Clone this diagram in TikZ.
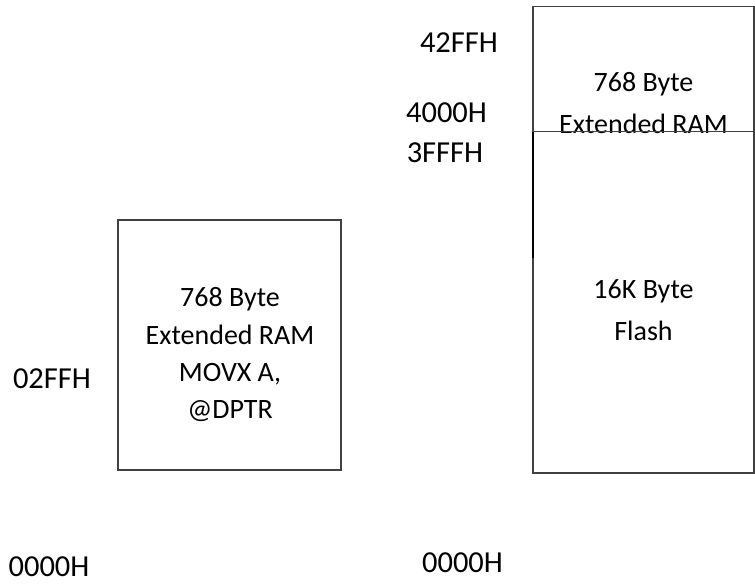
\documentclass[tikz,border=0pt]{standalone}
\usepackage{fontspec}
\setmainfont{Carlito}
\tikzset{
  box/.style={draw=black!75, line width=1.4pt, inner sep=0pt, outer sep=0pt, anchor=north west},
  boxtext/.style={inner sep=0pt, anchor=base, font=\fontsize{28}{34}\selectfont, text=black},
  addr/.style={inner sep=0pt, anchor=base, font=\fontsize{30.5}{36}\selectfont, text=black}
}
\begin{document}
\begin{tikzpicture}[x=1pt,y=-1pt]
\useasboundingbox (0,0) rectangle (755,584);
% boxes
\node[box, minimum width=223pt, minimum height=250pt] (ram) at (118,220) {};
\node[box, minimum width=221pt, minimum height=125pt] (xram) at (533,6.5) {};
\node[box, minimum width=221pt, minimum height=341.5pt] (flash) at (533,131.5) {};
\coordinate (seg1) at (533,132);
\coordinate (seg2) at (533,258);
\draw[black, line width=1.4pt] (seg1) -- (seg2);
% box texts
\node[boxtext] (r1) at (230,306) {768 Byte};
\node[boxtext] (r2) at (230,344) {Extended RAM};
\node[boxtext] (r3) at (230,381) {MOVX A,};
\node[boxtext] (r4) at (230,418) {@DPTR};
\node[boxtext] (x1) at (643.5,91) {768 Byte};
\node[boxtext] (x2) at (643.5,133) {Extended RAM};
\node[boxtext] (f1) at (643.5,298) {16K Byte};
\node[boxtext] (f2) at (643.5,340) {Flash};
% redraw divider on top of text
\draw[draw=black!75, line width=1.4pt] (xram.south west) -- (xram.south east);
% addresses
\node[addr] (a1) at (459,52) {42FFH};
\node[addr] (a2) at (446.5,122) {4000H};
\node[addr] (a3) at (445,162) {3FFFH};
\node[addr] (a4) at (52,388) {02FFH};
\node[addr] (a5) at (49,576) {0000H};
\node[addr] (a6) at (462.5,572) {0000H};
\end{tikzpicture}
\end{document}
